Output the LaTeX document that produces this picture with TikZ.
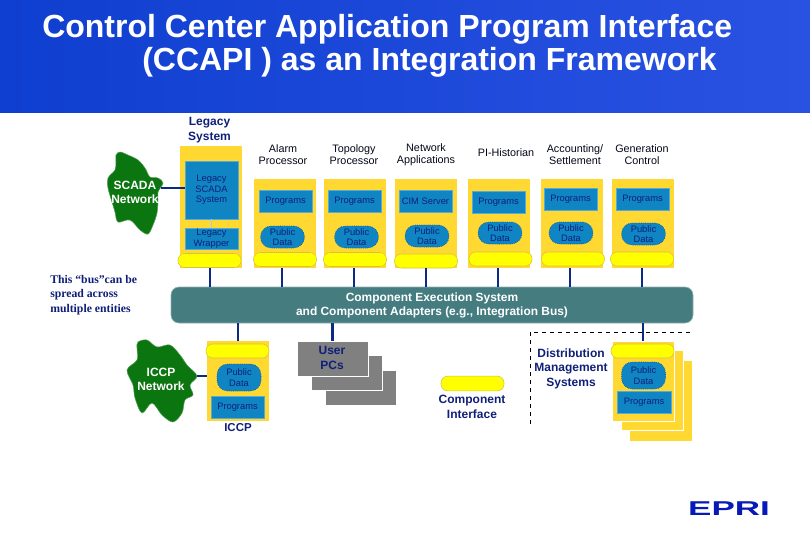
\documentclass[tikz,border=0pt]{standalone}
\usepackage{fontspec}
\setmainfont{Liberation Sans}
\newfontfamily\notefont{Liberation Serif}
\usepackage{xcolor}
\usepackage{tikz}
\definecolor{cardyellow}{HTML}{FFD932}
\definecolor{pillyellow}{HTML}{FFFF00}
\definecolor{pillline}{HTML}{D8C040}
\definecolor{boxblue}{HTML}{0F85C4}
\definecolor{inkblue}{HTML}{0F1F78}
\definecolor{linkblue}{HTML}{0B2A85}
\definecolor{blobgreen}{HTML}{0B7510}
\definecolor{busteal}{HTML}{457C80}
\definecolor{headleft}{HTML}{0F3FD0}
\definecolor{headright}{HTML}{2A52E2}
\tikzset{
	cardbox/.style={fill=cardyellow, inner sep=0pt, minimum width=46.5pt, minimum height=66.75pt},
	progbox/.style={fill=boxblue, draw=boxblue!70!white, line width=.3pt, inner sep=0pt, minimum width=39.75pt, minimum height=16.5pt, text=inkblue, font=\fontsize{7}{8}\selectfont},
	pubbox/.style={fill=boxblue, draw=linkblue!70!boxblue, densely dotted, line width=.4pt, rounded corners=8pt, inner sep=0pt, minimum width=33pt, minimum height=16.5pt, align=center, text=inkblue, font=\fontsize{7}{8}\selectfont},
	ifacebox/.style={fill=pillyellow, draw=pillline, line width=.4pt, rounded corners=5pt, inner sep=0pt, minimum width=47.25pt, minimum height=10.5pt},
	pcbox/.style={fill=gray, draw=white, line width=.5pt, inner sep=0pt, minimum width=53.25pt, minimum height=26.25pt},
	titletext/.style={align=center, inner sep=0pt, text=black!80!inkblue, font=\fontsize{8.1}{8.8}\selectfont},
	boldtext/.style={align=center, inner sep=0pt, text=inkblue, font=\fontsize{9}{10.8}\selectfont\bfseries},
	blobtext/.style={align=center, inner sep=0pt, text=white, font=\fontsize{9}{10.5}\selectfont\bfseries},
	headtext/.style={anchor=base west, inner sep=0pt, text=white, font=\fontsize{24}{26}\selectfont\bfseries},
	link/.style={draw=linkblue, line width=2pt},
	blob/.style={fill=blobgreen, draw=blobgreen!70!white, line width=.4pt}
}
\begin{document}
\begin{tikzpicture}[x=0.75pt, y=-0.75pt]
	\useasboundingbox (0,0) rectangle (810,540);

	% header
	\shade[left color=headleft, right color=headright] (0,0) rectangle (810,112);
	\node[headtext] (title1) at (42,37) {Control Center Application Program Interface};
	\node[headtext] (title2) at (142,70) {(CCAPI ) as an Integration Framework};

	% bus
	\node[fill=busteal, draw=busteal!60!white, line width=.5pt, rounded corners=6pt, inner sep=0pt, minimum width=391.5pt, minimum height=27pt,
		align=center, text=white, font=\fontsize{8.95}{10.6}\selectfont\bfseries] (bus) at (432,305)
		{Component Execution System\\and Component Adapters (e.g., Integration Bus)};

	% legacy column
	\node[boldtext] (legacylabel) at (209.5,130) {Legacy\\System};
	\node[cardbox, minimum height=91.5pt] (legacy) at (211,207) {};
	\node[progbox, minimum height=43.5pt, align=center] (legacyscada) at (211.5,190) {Legacy\\SCADA\\System};
	\node[progbox, minimum height=15.75pt, align=center] (legacywrap) at (211.5,238.5) {Legacy\\Wrapper};
	\node[ifacebox] (legacyiface) at (209.5,260.5) {};
	\draw[boxblue!40!white, line width=.3pt] (legacyscada) -- (legacywrap);
	\coordinate (legacytap) at (210,287);
	\draw[link] (legacytap |- legacy.south) -- (legacytap);

	% application columns
	\foreach \i/\x/\y/\txt in {
		1/283/155/Alarm\\Processor,
		2/354/155/Topology\\Processor,
		3/426/154.5/Network\\Applications,
		4/506/153/PI-Historian,
		5/575/155/Accounting\slash\\Settlement,
		6/642/154.5/Generation\\Control
	}{
		\node[titletext] (head\i) at (\x,\y) {\txt};
	}
	\foreach \i/\x in {1/284.5, 2/355, 3/426, 4/499, 5/572, 6/643}{
		\node[cardbox] (card\i) at (\x,223.5) {};
	}
	\foreach \i/\x/\y/\txt in {
		1/285.5/201/Programs,
		2/354.5/201/Programs,
		3/425.5/201/CIM Server,
		4/498.5/202/Programs,
		5/570.5/199.5/Programs,
		6/642.5/199.5/Programs
	}{
		\node[progbox] (prog\i) at (\x,\y) {\txt};
	}
	\foreach \i/\x/\y in {1/282.5/237, 2/356.5/237, 3/427/236, 4/500/233, 5/571/233, 6/643.5/234}{
		\node[pubbox] (data\i) at (\x,\y) {Public\\Data};
	}
	\foreach \i/\x/\y in {1/285/259.5, 2/355/259.5, 3/426/261, 4/500.5/259, 5/573/259, 6/642/259}{
		\node[ifacebox] (iface\i) at (\x,\y) {};
	}
	\foreach \i/\x in {1/282, 2/354, 3/426, 4/498, 5/570, 6/642}{
		\coordinate (tap\i) at (\x,287);
		\draw[link] (tap\i |- card\i.south) -- (tap\i);
	}

	% networks
	\draw[blob] plot[smooth cycle, tension=.55] coordinates {(116,155) (120,152) (128,155) (138,160) (145,168) (150,177) (158,178) (163,183) (158,192) (158,200) (157,213) (153,225) (148,234) (140,230) (130,220) (118,222) (115,212) (112,202) (108,188) (108,178) (115,170) (116,162)};
	\node[blobtext] (scada) at (135,192) {SCADA\\Network};
	\coordinate (scadaport) at (161,188);
	\draw[link] (scadaport) -- (legacyscada.west |- scadaport);

	\draw[blob] plot[smooth cycle, tension=.55] coordinates {(138,342) (147,340) (157,347) (170,345) (180,355) (187,365) (197,376) (190,385) (193,395) (185,400) (182,413) (173,422) (162,415) (152,403) (142,413) (135,398) (133,385) (127,370) (137,360) (137,348)};
	\node[blobtext] (iccpnet) at (161,379.5) {ICCP\\Network};
	\coordinate (iccpport) at (197,376);

	% note
	\node[anchor=north west, align=left, inner sep=0pt, text=inkblue, font=\notefont\fontsize{8.8}{10.9}\selectfont\bfseries] (note) at (50,275)
		{This “bus”can be\\spread across\\multiple entities};

	% ICCP
	\node[cardbox, minimum height=60pt] (iccp) at (238,381) {};
	\node[ifacebox] (iccpiface) at (237.5,351) {};
	\node[pubbox, minimum height=20.25pt] (iccpdata) at (239,377.5) {Public\\Data};
	\node[progbox] (iccpprog) at (237.5,407) {Programs};
	\node[boldtext, font=\fontsize{8.6}{10}\selectfont\bfseries] (iccplabel) at (238,427.5) {ICCP};
	\draw[link] (iccp.north) -- (iccp.north |- bus.south);
	\draw[link] (iccpport) -- (iccp.west |- iccpport);

	% user pcs
	\node[pcbox] (pc3) at (360.5,387.5) {};
	\node[pcbox] (pc2) at (346.5,372.5) {};
	\node[pcbox] (pc1) at (332.5,358.5) {};
	\node[boldtext, font=\fontsize{9}{11.2}\selectfont\bfseries] (pclabel) at (332,357.5) {User\\PCs};
	\draw[link] (pc1.north) -- (pc1.north |- bus.south);

	% legend
	\node[ifacebox, minimum height=11pt] (legendiface) at (472.5,383.5) {};
	\node[boldtext] (legendlabel) at (472,407) {Component\\Interface};

	% distribution
	\coordinate (dashend) at (692,332);
	\coordinate (dashcorner) at (530,332);
	\coordinate (dashstart) at (530,424);
	\draw[black, dashed, line width=.5pt] (dashstart) -- (dashcorner) -- (dashend);
	\node[boldtext] (dmslabel) at (571,368.5) {Distribution\\Management\\Systems};
	\node[cardbox, minimum height=60pt] (dms3) at (661,401) {};
	\node[cardbox, minimum height=60pt, draw=white, line width=.5pt] (dms2) at (652,390) {};
	\node[cardbox, minimum height=60pt, draw=white, line width=.5pt] (dms1) at (643,381) {};
	\node[ifacebox] (dmsiface) at (642.5,351) {};
	\node[pubbox, minimum height=20.25pt] (dmsdata) at (643.5,375.5) {Public\\Data};
	\node[progbox, minimum width=40.5pt] (dmsprog) at (644,402) {Programs};
	\draw[link] (dms1.north) -- (dms1.north |- bus.south);

	% logo
	\node[inner sep=0pt, text=linkblue!60!blue, font=\fontsize{15}{15}\selectfont\bfseries] (epri) at (729,508.5) {\scalebox{1.75}[1]{EPRI}};
\end{tikzpicture}
\end{document}
